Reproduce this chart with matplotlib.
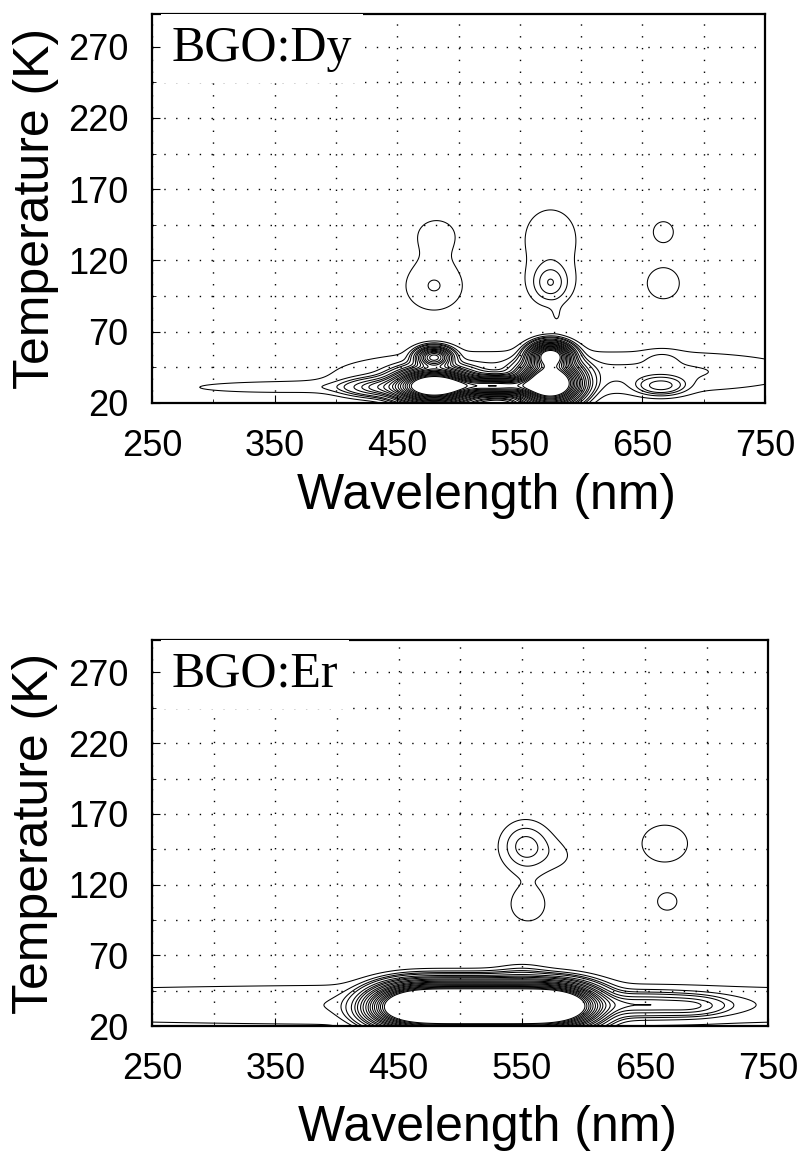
import numpy as np
import matplotlib
matplotlib.use("Agg")
import matplotlib.pyplot as plt
from matplotlib.ticker import FixedLocator

plt.rcParams['font.family'] = ['Liberation Sans', 'DejaVu Sans']

# Emission peaks: wavelength (nm), temperature (K), height, widths
dy_wl = [482, 480, 575, 575, 575, 580, 667, 667, 758,
         480, 480, 575, 575, 530, 440, 665, 666, 500, 680, 340]
dy_temp = [138, 102, 140, 104, 110, 80, 140, 104, 105,
           52, 32, 53, 34, 32, 31, 32, 52, 40, 42, 31]
dy_amp = [1.4, 2.05, 1.5, 3.2, 0.8, 0.7, 1.5, 1.8, 1.5,
          40, 120, 90, 130, 60, 10, 6, 0.9, 2.2, 2.0, 1.6]
dy_sw = [17, 19, 18, 10, 25, 4, 9, 12, 8,
         8, 16, 9, 13, 25, 20, 12, 10, 80, 80, 50]
dy_st = [12, 14, 16, 9, 20, 6, 8, 10, 12,
         4, 6, 5, 8, 3.5, 4, 4, 4, 12, 11, 3]

er_wl = [553, 555, 582, 666, 668,
         460, 484, 508, 532, 556, 580, 440, 650, 690, 550, 500]
er_temp = [147, 106, 140, 149, 108,
           34, 34, 34, 34, 34, 34, 30, 35, 34, 58, 35]
er_amp = [3.5, 1.6, 0.9, 1.8, 1.45,
          120, 120, 120, 120, 120, 120, 5, 8, 3, 1.2, 2.0]
er_sw = [14, 14, 14, 17, 9,
         18, 18, 18, 18, 18, 18, 15, 35, 15, 14, 420]
er_st = [12, 12, 10, 12, 7,
         8, 8, 8, 8, 8, 8, 6, 5, 4, 5, 12]

levels = [1, 2, 3, 4, 6, 8, 10, 13, 16, 20, 24, 28, 33, 38, 44, 50, 56, 63, 70]
x_ticks = [250, 350, 450, 550, 650, 750]
x_minor = [300, 400, 500, 600, 700]
y_ticks = [20, 70, 120, 170, 220, 270]
y_minor = [45, 95, 145, 195, 245]

wl = np.linspace(250, 750, 501)
temp = np.linspace(20, 293, 547)
W, T = np.meshgrid(wl, temp)


def field(cw, ct, amp, sw, st):
    z = np.zeros_like(W)
    for a, b, h, s1, s2 in zip(cw, ct, amp, sw, st):
        z += h * np.exp(-(W - a) ** 2 / (2 * s1 ** 2) - (T - b) ** 2 / (2 * s2 ** 2))
    return z


fig = plt.figure(figsize=(8.02, 11.53), dpi=100)
ax1 = fig.add_axes([0.1895, 0.6505, 0.7645, 0.3374])
ax2 = fig.add_axes([0.1895, 0.1101, 0.7685, 0.3349])

panels = [(ax1, field(dy_wl, dy_temp, dy_amp, dy_sw, dy_st), "BGO:Dy", -0.18),
          (ax2, field(er_wl, er_temp, er_amp, er_sw, er_st), "BGO:Er", -0.205)]

for ax, z, name, xl_y in panels:
    ax.contour(W, T, z, levels=levels, colors='black', linewidths=0.75)
    ax.set_xlim(250, 750)
    ax.set_ylim(20, 293)
    ax.set_xticks(x_ticks)
    ax.set_yticks(y_ticks)
    ax.xaxis.set_minor_locator(FixedLocator(x_minor))
    ax.yaxis.set_minor_locator(FixedLocator(y_minor))
    ax.grid(which='both', color='black', linestyle=(0, (1, 7.5)), linewidth=1.0)
    ax.set_axisbelow(True)
    ax.tick_params(which='major', direction='in', labelsize=26, length=6)
    ax.tick_params(which='minor', direction='in', length=3)
    ax.tick_params(axis='x', which='major', pad=19)
    ax.tick_params(axis='y', which='major', pad=17)
    for s in ax.spines.values():
        s.set_linewidth(1.6)
    ax.set_xlabel("Wavelength (nm)", fontsize=36, labelpad=0)
    ax.xaxis.set_label_coords(0.545, xl_y)
    ax.set_ylabel("Temperature (K)", fontsize=36, labelpad=0)
    ax.yaxis.set_label_coords(-0.152, 0.5)
    ax.text(266, 285, name, family='Liberation Serif', fontsize=36,
            ha='left', va='top', zorder=5,
            bbox=dict(facecolor='white', edgecolor='none', pad=8))

fig.savefig("out.png", dpi=100)
